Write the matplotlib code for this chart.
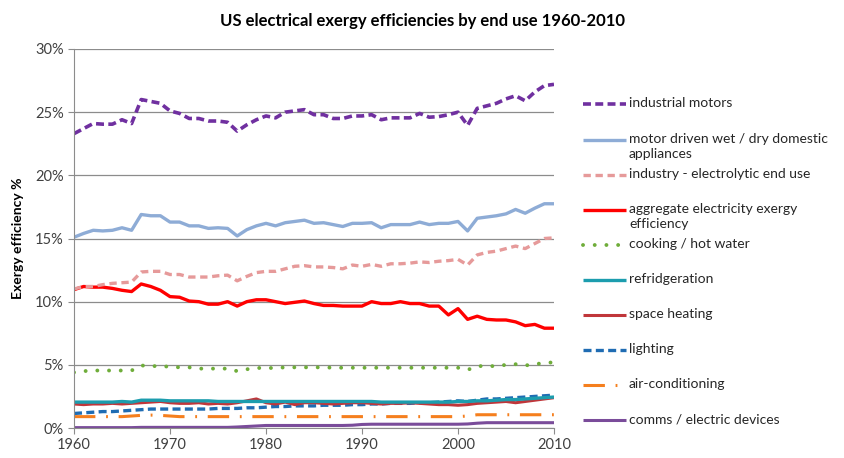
import matplotlib.pyplot as plt
from matplotlib.lines import Line2D
from matplotlib.ticker import FuncFormatter

plt.rcParams['font.family'] = ['Lato', 'DejaVu Sans']

years = list(range(1960, 2011))

industrial_motors = [23.3, 23.7, 24.1, 24.05, 24.05, 24.4, 24.1, 26.0, 25.85, 25.7,
                     25.1, 24.9, 24.5, 24.5, 24.3, 24.3, 24.2, 23.5, 24.0, 24.4,
                     24.7, 24.55, 25.0, 25.1, 25.2, 24.8, 24.8, 24.5, 24.5, 24.7,
                     24.7, 24.8, 24.4, 24.55, 24.55, 24.55, 24.9, 24.6, 24.65, 24.8,
                     25.0, 23.95, 25.3, 25.5, 25.7, 26.05, 26.3, 25.9, 26.6, 27.1, 27.2]
appliances = [15.1, 15.4, 15.65, 15.6, 15.65, 15.85, 15.65, 16.9, 16.8, 16.8,
              16.3, 16.3, 16.0, 16.0, 15.8, 15.85, 15.8, 15.2, 15.7, 16.0,
              16.2, 16.0, 16.25, 16.35, 16.45, 16.2, 16.25, 16.1, 15.95, 16.2,
              16.2, 16.25, 15.85, 16.1, 16.1, 16.1, 16.3, 16.1, 16.2, 16.2,
              16.35, 15.6, 16.6, 16.7, 16.8, 16.95, 17.3, 17.0, 17.4, 17.75, 17.75]
electrolytic = [11.0, 11.2, 11.2, 11.35, 11.45, 11.5, 11.55, 12.35, 12.4, 12.4,
                12.15, 12.15, 11.95, 11.95, 11.95, 12.05, 12.1, 11.65, 12.0, 12.3,
                12.4, 12.4, 12.6, 12.8, 12.85, 12.75, 12.75, 12.7, 12.6, 12.9,
                12.8, 12.95, 12.8, 13.0, 13.0, 13.05, 13.15, 13.1, 13.2, 13.25,
                13.35, 12.9, 13.7, 13.9, 14.0, 14.2, 14.4, 14.2, 14.6, 15.0, 15.05]
aggregate = [10.95, 11.2, 11.15, 11.15, 11.05, 10.9, 10.8, 11.4, 11.2, 10.9,
             10.4, 10.35, 10.05, 10.0, 9.8, 9.8, 10.0, 9.65, 10.0, 10.15,
             10.15, 10.0, 9.85, 9.95, 10.05, 9.85, 9.7, 9.7, 9.65, 9.65,
             9.65, 10.0, 9.85, 9.85, 10.0, 9.85, 9.85, 9.65, 9.65, 8.95,
             9.45, 8.6, 8.85, 8.6, 8.55, 8.55, 8.4, 8.1, 8.2, 7.9, 7.9]
cooking = [4.4, 4.5, 4.55, 4.55, 4.55, 4.55, 4.55, 4.95, 4.9, 4.9,
           4.85, 4.8, 4.8, 4.7, 4.7, 4.7, 4.7, 4.5, 4.65, 4.75,
           4.75, 4.75, 4.8, 4.8, 4.8, 4.8, 4.8, 4.77, 4.77, 4.77,
           4.77, 4.77, 4.77, 4.77, 4.77, 4.77, 4.77, 4.77, 4.77, 4.77,
           4.77, 4.6, 4.9, 4.9, 4.9, 5.0, 5.05, 4.95, 5.05, 5.15, 5.2]
refrigeration = [2.05, 2.05, 2.05, 2.05, 2.05, 2.1, 2.05, 2.2, 2.2, 2.2,
                 2.15, 2.15, 2.15, 2.15, 2.15, 2.1, 2.1, 2.1, 2.1, 2.1,
                 2.1, 2.1, 2.1, 2.1, 2.1, 2.1, 2.1, 2.1, 2.1, 2.1,
                 2.1, 2.1, 2.05, 2.05, 2.05, 2.05, 2.05, 2.05, 2.05, 2.05,
                 2.1, 2.1, 2.15, 2.15, 2.2, 2.25, 2.25, 2.3, 2.35, 2.4, 2.45]
space_heating = [1.9, 1.85, 1.9, 1.9, 1.95, 1.9, 1.95, 2.0, 2.05, 2.1,
                 2.0, 1.95, 1.95, 2.0, 1.9, 1.95, 1.9, 2.0, 2.15, 2.3,
                 2.0, 1.9, 2.05, 1.85, 2.0, 2.0, 1.95, 1.9, 1.95, 2.0,
                 2.0, 1.95, 1.9, 1.95, 1.95, 2.0, 1.95, 1.9, 1.85, 1.85,
                 1.8, 1.85, 1.95, 2.0, 2.05, 2.1, 2.0, 2.1, 2.2, 2.3, 2.4]
lighting = [1.15, 1.2, 1.25, 1.3, 1.3, 1.35, 1.4, 1.45, 1.5, 1.5,
            1.5, 1.5, 1.5, 1.5, 1.5, 1.55, 1.55, 1.55, 1.6, 1.6,
            1.65, 1.7, 1.7, 1.75, 1.75, 1.75, 1.8, 1.8, 1.8, 1.85,
            1.85, 1.9, 1.9, 1.95, 1.95, 1.95, 2.0, 2.0, 2.05, 2.1,
            2.15, 2.1, 2.2, 2.3, 2.3, 2.35, 2.4, 2.45, 2.5, 2.55, 2.6]
air_conditioning = [0.9, 0.9, 0.9, 0.9, 0.9, 0.9, 0.95, 1.0, 1.02, 1.0,
                    0.95, 0.9, 0.9, 0.9, 0.9, 0.9, 0.9, 0.9, 0.9, 0.9,
                    0.9, 0.9, 0.9, 0.9, 0.9, 0.9, 0.9, 0.9, 0.9, 0.9,
                    0.9, 0.9, 0.9, 0.9, 0.9, 0.9, 0.9, 0.9, 0.9, 0.9,
                    0.9, 0.95, 1.05, 1.05, 1.05, 1.05, 1.05, 1.05, 1.05, 1.05, 1.05]
comms = [0.03, 0.03, 0.03, 0.03, 0.03, 0.03, 0.03, 0.05, 0.05, 0.05,
         0.05, 0.05, 0.05, 0.05, 0.05, 0.05, 0.05, 0.08, 0.12, 0.16,
         0.2, 0.2, 0.2, 0.2, 0.2, 0.2, 0.2, 0.2, 0.2, 0.22,
         0.28, 0.3, 0.3, 0.3, 0.3, 0.3, 0.3, 0.3, 0.3, 0.3,
         0.3, 0.32, 0.38, 0.42, 0.42, 0.42, 0.42, 0.42, 0.42, 0.42, 0.42]

labels = ['industrial motors',
          'motor driven wet / dry domestic\nappliances',
          'industry - electrolytic end use',
          'aggregate electricity exergy\nefficiency',
          'cooking / hot water',
          'refridgeration',
          'space heating',
          'lighting',
          'air-conditioning',
          'comms / electric devices']

series = [industrial_motors, appliances, electrolytic, aggregate, cooking,
          refrigeration, space_heating, lighting, air_conditioning, comms]

styles = [
    dict(color='#7030A0', lw=2.6, ls=(0, (2.2, 1.2)), cap='butt'),
    dict(color='#8EACD6', lw=2.4, ls='-', cap='butt'),
    dict(color='#E69A9A', lw=2.4, ls=(0, (2.2, 1.4)), cap='butt'),
    dict(color='#FF0000', lw=2.4, ls='-', cap='butt'),
    dict(color='#6FAD3A', lw=2.8, ls=(0, (0.01, 3.0)), cap='round'),
    dict(color='#1C9DAE', lw=2.4, ls='-', cap='butt'),
    dict(color='#C0363A', lw=2.2, ls='-', cap='butt'),
    dict(color='#1F6CB3', lw=2.4, ls=(0, (2.4, 1.3)), cap='butt'),
    dict(color='#F57F1E', lw=2.2, ls=(0, (7, 3.5, 0.6, 3.5)), cap='butt'),
    dict(color='#7A4C9A', lw=2.2, ls='-', cap='butt'),
]

fig = plt.figure(figsize=(8.45, 4.58), dpi=100)
ax = fig.add_axes([74/845, 1-428/458, 480/845, 379/458])

# draw back to front so industrial motors etc sit on top like the original
for vals, st in reversed(list(zip(series, styles))):
    ax.plot(years, vals, color=st['color'], lw=st['lw'], linestyle=st['ls'],
            solid_capstyle='butt', dash_capstyle=st['cap'])

ax.set_xlim(1960, 2010)
ax.set_ylim(0, 30)
ax.set_xticks(range(1960, 2011, 10))
ax.set_yticks(range(0, 31, 5))
ax.yaxis.set_major_formatter(FuncFormatter(lambda v, p: '%d%%' % v))
ax.grid(axis='y', color='#8c8c8c', lw=0.9)
ax.set_axisbelow(True)
for s in ['top', 'right']:
    ax.spines[s].set_visible(False)
for s in ['left', 'bottom']:
    ax.spines[s].set_color('#8c8c8c')
ax.tick_params(axis='both', colors='#8c8c8c', labelcolor='#404040', labelsize=10.5,
               length=4, direction='out')
ax.set_ylabel('Exergy efficiency %', fontsize=10, fontweight='bold', labelpad=8)

fig.text(0.5, 0.955, 'US electrical exergy efficiencies by end use 1960-2010',
         ha='center', va='center', fontsize=12, fontweight='bold')

# legend drawn by hand to keep the spacing of the original
leg_y = [104, 140, 175, 210, 245, 280, 315, 350, 385, 420]
for lab, st, y in zip(labels, styles, leg_y):
    yf = 1 - y/458
    fig.add_artist(Line2D([583/845, 626/845], [yf, yf], color=st['color'], lw=st['lw'],
                          linestyle=st['ls'], solid_capstyle='butt',
                          dash_capstyle=st['cap']))
    fig.text(629/845, 1 - (y - 7)/458, lab, ha='left', va='top', fontsize=10,
             color='#262626', linespacing=1.3)

fig.savefig('out.png', dpi=100)
